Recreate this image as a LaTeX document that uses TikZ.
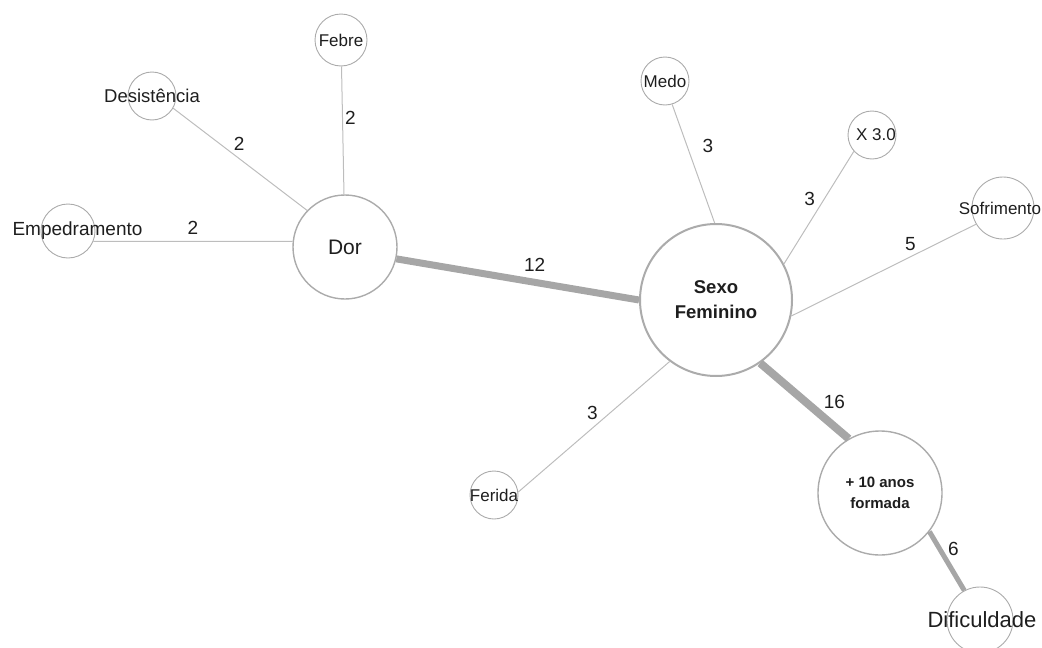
\documentclass[tikz,border=0pt]{standalone}
\usepackage{fontspec}
\setmainfont{Liberation Sans}
\definecolor{ringgray}{HTML}{ABABAB}
\definecolor{wiregray}{HTML}{BDBDBD}
\definecolor{bargray}{HTML}{A6A6A6}
\definecolor{ink}{HTML}{1E1E1E}

\begin{document}
\begin{tikzpicture}[x=1pt,y=-1pt,
  bubble/.style={circle,draw=ringgray,line width=0.9pt,fill=white,inner sep=0pt,minimum size=#1},
  wire/.style={draw=wiregray,line width=1pt},
  bar/.style={draw=bargray,line width=#1},
  num/.style={font=\fontsize{19}{19}\selectfont,text=ink,inner sep=2pt},
  tag/.style={font=\fontsize{17}{17}\selectfont,text=ink,inner sep=0pt}]
\useasboundingbox (0,0) rectangle (1042,648);

\node[bubble=104pt,line width=1.4pt,label={[tag,font=\fontsize{21}{21}\selectfont]center:Dor}] (dor) at (345,247) {}; % Dor
\node[bubble=52pt,label={[tag]center:Febre}] (febre) at (341,40) {};
\node[bubble=48pt,label={[tag,font=\fontsize{18.5}{18.5}\selectfont]center:Desistência}] (desist) at (152,96) {};
\node[bubble=54pt,label={[tag,xshift=9.5pt,font=\fontsize{19}{19}\selectfont]center:Empedramento}] (emped) at (68,231) {};

\node[bubble=152pt,line width=2pt,label={[tag,align=center,font=\bfseries\fontsize{18.5}{25}\selectfont]center:Sexo\\Feminino}] (sexo) at (716,300) {}; % Sexo
\node[bubble=48pt,label={[tag]center:Medo}] (medo) at (665,81) {};
\node[bubble=48pt,label={[tag,xshift=4pt]center:X 3.0}] (xtres) at (872,135) {};
\node[bubble=62pt,label={[tag,xshift=-3pt]center:Sofrimento}] (sofr) at (1003,208) {};
\node[bubble=48pt,label={[tag]center:Ferida}] (ferida) at (494,495) {};

\node[bubble=124pt,line width=1.4pt,label={[tag,align=center,font=\bfseries\fontsize{15}{21}\selectfont]center:+ 10 anos\\formada}] (anos) at (880,493) {}; % anos
\node[bubble=66pt,label={[tag,xshift=2pt,font=\fontsize{22}{22}\selectfont]center:Dificuldade}] (dif) at (980,620) {};

\draw[wire] (febre) -- node[num,pos=0.4,right]{2} (dor);
\draw[wire] (desist.-30) -- node[num,pos=0.435,above right]{2} (dor.136);
\draw[wire] (emped.-22) -- node[num,midway,above=4pt]{2} (dor.174.5);
\draw[bar=7pt] (dor.-13) -- node[num,pos=0.57,above=5pt]{12} (sexo.180);

\draw[wire] (medo.-73) -- node[num,pos=0.353,right=13pt]{3} (sexo.91);
\draw[wire] (xtres.222) -- node[num,pos=0.42,left=7pt]{3} (sexo.28);
\draw[wire] (sofr.211) -- node[num,pos=0.356,above=4pt]{5} (sexo.-12);
\draw[wire] (ferida.7) -- node[num,pos=0.49,above=6pt]{3} (sexo.233);
\draw[bar=8pt] (sexo.-55) -- node[num,pos=0.52,right=11.6pt]{16} (anos.120);
\draw[bar=5pt] (anos.-38) -- node[num,pos=0.29,right=4pt]{6} (dif.118);
\end{tikzpicture}
\end{document}
